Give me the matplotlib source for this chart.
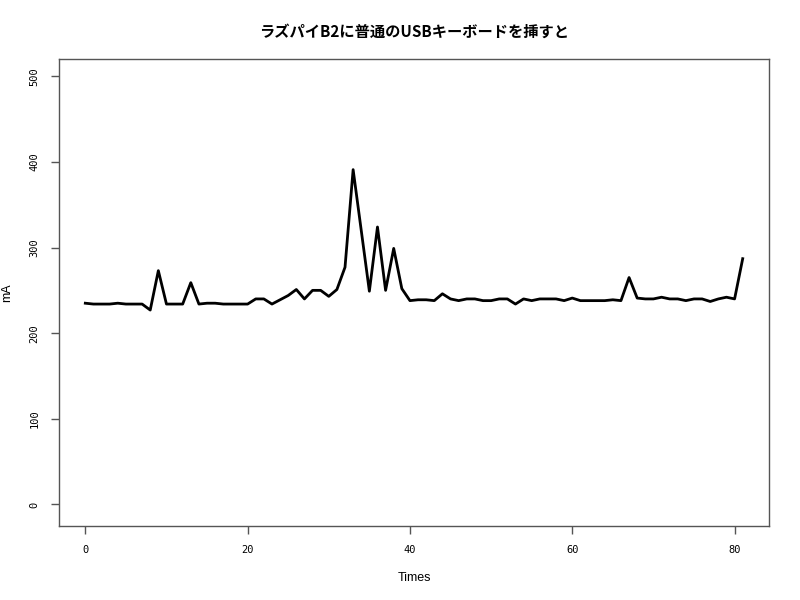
import numpy as np
import matplotlib.pyplot as plt

plt.rcParams['font.family'] = ['Noto Sans CJK JP', 'DejaVu Sans']

# measured current (mA) per sample
times = list(range(82))
current_ma = [
    235, 234, 234, 234, 235, 234, 234, 234, 227, 273,
    234, 234, 234, 259, 234, 235, 235, 234, 234, 234,
    234, 240, 240, 234, 239, 244, 251, 240, 250, 250,
    243, 251, 277, 391, 320, 249, 324, 250, 299, 252,
    238, 239, 239, 238, 246, 240, 238, 240, 240, 238,
    238, 240, 240, 234, 240, 238, 240, 240, 240, 238,
    241, 238, 238, 238, 238, 239, 238, 265, 241, 240,
    240, 242, 240, 240, 238, 240, 240, 237, 240, 242,
    240, 287,
]
x_ticks = [0, 20, 40, 60, 80]
y_ticks = [0, 100, 200, 300, 400, 500]

fig = plt.figure(figsize=(8, 6), dpi=100)
ax = fig.add_axes([59 / 800, 1 - 526 / 600, 710 / 800, 467 / 600])

ax.plot(times, current_ma, color='black', linewidth=2.0)

ax.set_xlim(-3.24, 84.24)
ax.set_ylim(-25.2, 520.2)
ax.set_xticks(x_ticks)
ax.set_yticks(y_ticks)
ax.set_xticklabels([str(t) for t in x_ticks])
ax.set_yticklabels([str(t) for t in y_ticks], rotation=90, va='center')
ax.tick_params(axis='both', length=6, width=1, color='#555555', pad=8)

for lbl in ax.get_xticklabels() + ax.get_yticklabels():
    lbl.set_family('DejaVu Sans Mono')
    lbl.set_fontsize(7.5)
    lbl.set_fontstretch('condensed')

for s in ax.spines.values():
    s.set_color('#555555')
    s.set_linewidth(1)

ax.set_xlabel('Times', fontsize=9, labelpad=12, family=['Liberation Sans', 'DejaVu Sans'])
ax.set_ylabel('mA', fontsize=9, labelpad=12, family=['Liberation Sans', 'DejaVu Sans'])
ax.set_title('ラズパイB2に普通のUSBキーボードを挿すと', fontsize=11, fontweight='bold', pad=16)

fig.savefig('out.png', dpi=100)
